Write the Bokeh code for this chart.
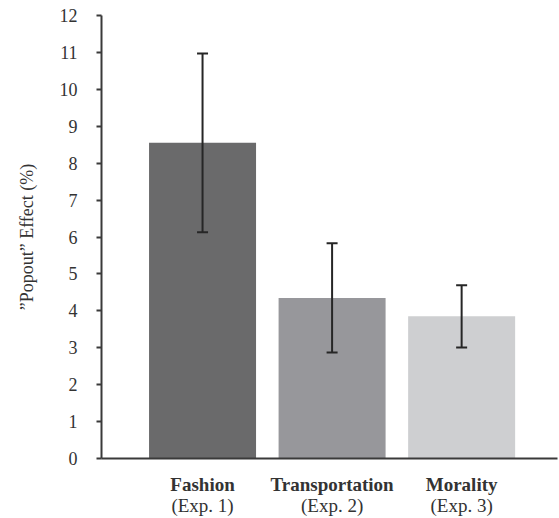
from bokeh.plotting import figure
from bokeh.models import ColumnDataSource, Whisker, TeeHead, LinearAxis, FixedTicker, Range1d
from bokeh.embed import file_html
from bokeh.resources import INLINE

# ---- data ----
categories = ["Fashion", "Transportation", "Morality"]
experiments = ["(Exp. 1)", "(Exp. 2)", "(Exp. 3)"]
effect = [8.55, 4.35, 3.85]
error = [2.42, 1.48, 0.84]
bar_colors = ["#6a6a6b", "#97979b", "#cecfd1"]
y_ticks = [0, 1, 2, 3, 4, 5, 6, 7, 8, 9, 10, 11, 12]

xpos = [i + 1 for i in range(len(categories))]
source = ColumnDataSource(data=dict(
    x=xpos, top=effect, color=bar_colors,
    upper=[m + e for m, e in zip(effect, error)],
    lower=[m - e for m, e in zip(effect, error)],
))

FONT = "Liberation Serif"
TXT = "#333333"
AX = "#3a3a3a"

p = figure(width=559, height=518, output_backend="svg", toolbar_location=None,
           x_range=Range1d(0.22, 3.74), y_range=Range1d(0, 12),
           x_axis_location=None, y_axis_location=None,
           min_border_left=101, min_border_right=2, min_border_top=15, min_border_bottom=60)
p.outline_line_color = None
p.xgrid.visible = False
p.ygrid.visible = False

p.vbar(x="x", top="top", width=0.826, bottom=0, fill_color="color", line_color=None, source=source)

w = Whisker(base="x", upper="upper", lower="lower", source=source, level="overlay",
            line_color="#262626", line_width=2,
            upper_head=TeeHead(size=11, line_color="#262626", line_width=2),
            lower_head=TeeHead(size=11, line_color="#262626", line_width=2))
p.add_layout(w)

# y axis
yax = LinearAxis(ticker=FixedTicker(ticks=y_ticks))
yax.axis_label = "\u201dPopout\u201d Effect (%)"
yax.axis_label_text_font = FONT
yax.axis_label_text_font_size = "18px"
yax.axis_label_text_font_style = "normal"
yax.axis_label_text_color = TXT
yax.axis_label_standoff = 20
yax.major_label_text_font = FONT
yax.major_label_text_font_size = "18px"
yax.major_label_text_color = TXT
yax.major_label_standoff = 19
yax.major_tick_in = 0
yax.major_tick_out = 5
yax.major_tick_line_color = AX
yax.major_tick_line_width = 2
yax.minor_tick_line_color = None
yax.axis_line_color = AX
yax.axis_line_width = 2
p.add_layout(yax, "left")

# x axis: bold category names
xax = LinearAxis(ticker=FixedTicker(ticks=xpos))
xax.major_label_overrides = {x: c for x, c in zip(xpos, categories)}
xax.major_label_text_font = FONT
xax.major_label_text_font_size = "19px"
xax.major_label_text_font_style = "bold"
xax.major_label_text_color = TXT
xax.major_label_standoff = 15
xax.major_tick_line_color = None
xax.major_tick_out = 0
xax.minor_tick_line_color = None
xax.axis_line_color = AX
xax.axis_line_width = 2
p.add_layout(xax, "below")

# x axis: experiment numbers
xax2 = LinearAxis(ticker=FixedTicker(ticks=xpos))
xax2.major_label_overrides = {x: e for x, e in zip(xpos, experiments)}
xax2.major_label_text_font = FONT
xax2.major_label_text_font_size = "19px"
xax2.major_label_text_color = TXT
xax2.major_label_standoff = -3
xax2.major_tick_line_color = None
xax2.major_tick_out = 0
xax2.minor_tick_line_color = None
xax2.axis_line_color = None
p.add_layout(xax2, "below")

open("out.html", "w").write(file_html(p, INLINE))
